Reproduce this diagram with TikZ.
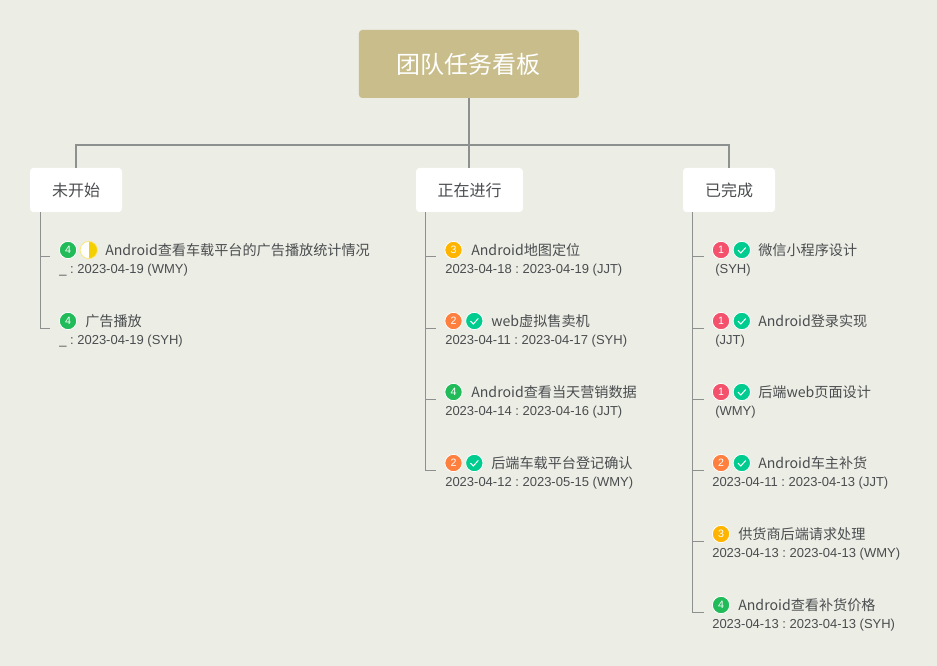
\documentclass[tikz,border=0pt]{standalone}
\usepackage{fontspec}
\setmainfont{Noto Sans CJK SC}
\newfontfamily\datefont{Liberation Sans}
\usepackage{tikz}
\usetikzlibrary{positioning, calc}
\definecolor{boardbg}{HTML}{ECEDE5}
\definecolor{rootfill}{HTML}{C8BD8B}
\definecolor{inkgray}{HTML}{4A4D4F}
\definecolor{trunkgray}{HTML}{8C908E}
\definecolor{lvlone}{HTML}{F4516C}
\definecolor{lvltwo}{HTML}{FF7F3F}
\definecolor{lvlthree}{HTML}{FFB400}
\definecolor{lvlfour}{HTML}{22BB5A}
\definecolor{donegreen}{HTML}{00CC90}
\definecolor{halfyellow}{HTML}{F5D000}
\frenchspacing

\begin{document}
\begin{tikzpicture}[
  x=0.75pt, y=-0.75pt,
  rootbox/.style={fill=rootfill, text=white, rounded corners=2.5pt, minimum width=165pt,
                  minimum height=51pt, font=\fontsize{18}{20}\selectfont},
  column/.style={fill=white, text=inkgray, rounded corners=2.5pt, minimum height=33pt,
                 font=\fontsize{12}{14}\selectfont},
  tasktitle/.style={anchor=west, inner sep=0pt, text=inkgray, font=\fontsize{10.6}{12}\selectfont},
  taskdate/.style={anchor=west, inner sep=0pt, text=inkgray, font=\datefont\fontsize{9.75}{12}\selectfont},
  badge/.style={circle, draw=white, line width=0.6pt, inner sep=0pt, minimum size=13pt,
                text=white, font=\datefont\fontsize{8}{8}\selectfont},
  trunk/.style={draw=trunkgray, line width=1.4pt},
  twig/.style={draw=trunkgray, line width=0.75pt}
]
\path[fill=boardbg, use as bounding box] (0,0) rectangle (937,666);

\node[rootbox] (board) at (468.9,64) {团队任务看板};
\node[column, minimum width=69pt] (todo) at (76,190) {未开始};
\node[column, minimum width=80pt] (doing) at (469.5,190) {正在进行};
\node[column, minimum width=69pt] (done) at (729,190) {已完成};

\coordinate (bus) at (468.9,145);
\draw[trunk] (board.south) -- (board.south |- doing.north);
\draw[trunk] (todo.north) |- (bus) -| (done.north);

% not started
\foreach \nm/\y/\lvl/\n/\tx/\txt/\dt in {
  a1/257/lvlfour/4/105/Android查看车载平台的广告播放统计情况/\_ : 2023-04-19 (WMY),
  a2/328/lvlfour/4/85/广告播放/\_ : 2023-04-19 (SYH)} {
  \coordinate (\nm) at (50,\y);
  \draw[twig] ([xshift=7.7pt]todo.south west) |- (\nm);
  \node[badge, fill=\lvl] (\nm b) at (68,{\y-7}) {\n};
  \node[tasktitle] (\nm t) at (\tx,{\y-7}) {\txt};
  \node[taskdate] (\nm d) at (59,{\y+13.5}) {\dt};
}

% in progress
\foreach \nm/\y/\lvl/\n/\tx/\txt/\dt in {
  b1/257/lvlthree/3/471/Android地图定位/2023-04-18 : 2023-04-19 (JJT),
  b2/328/lvltwo/2/491/web虚拟售卖机/2023-04-11 : 2023-04-17 (SYH),
  b3/399/lvlfour/4/471/Android查看当天营销数据/2023-04-14 : 2023-04-16 (JJT),
  b4/470/lvltwo/2/491/后端车载平台登记确认/2023-04-12 : 2023-05-15 (WMY)} {
  \coordinate (\nm) at (436,\y);
  \draw[twig] ([xshift=7pt]doing.south west) |- (\nm);
  \node[badge, fill=\lvl] (\nm b) at (453.5,{\y-7}) {\n};
  \node[tasktitle] (\nm t) at (\tx,{\y-7}) {\txt};
  \node[taskdate] (\nm d) at (445,{\y+13.5}) {\dt};
}
\draw[twig, line width=1.1pt] ([xshift=7pt]doing.south west) -- ([xshift=7pt]doing.south west |- b3);

% finished
\foreach \nm/\y/\lvl/\n/\tx/\txt/\dx/\dt in {
  c1/257/lvlone/1/758/微信小程序设计/715/(SYH),
  c2/328/lvlone/1/758/Android登录实现/715/(JJT),
  c3/399/lvlone/1/758/后端web页面设计/715/(WMY),
  c4/470/lvltwo/2/758/Android车主补货/712/2023-04-11 : 2023-04-13 (JJT),
  c5/541/lvlthree/3/738/供货商后端请求处理/712/2023-04-13 : 2023-04-13 (WMY),
  c6/612/lvlfour/4/738/Android查看补货价格/712/2023-04-13 : 2023-04-13 (SYH)} {
  \coordinate (\nm) at (704,\y);
  \draw[twig] ([xshift=7pt]done.south west) |- (\nm);
  \node[badge, fill=\lvl] (\nm b) at (721,{\y-7}) {\n};
  \node[tasktitle] (\nm t) at (\tx,{\y-7}) {\txt};
  \node[taskdate] (\nm d) at (\dx,{\y+13.5}) {\dt};
}

% half circle on the first card
\node[badge, fill=white, draw=halfyellow!50, path picture={
  \fill[halfyellow] (path picture bounding box.north) rectangle (path picture bounding box.south east);
}, right=2pt of a1b] (a1h) {};

% check marks
\foreach \nm in {b2,b4,c1,c2,c3,c4} {
  \node[badge, fill=donegreen, right=2pt of \nm b] (\nm k) {};
  \draw[white, line width=0.75pt] ([shift={(-3.8,0.2)}]\nm k.center) -- ([shift={(-1,3)}]\nm k.center) -- ([shift={(4,-2.6)}]\nm k.center);
}
\end{tikzpicture}
\end{document}
